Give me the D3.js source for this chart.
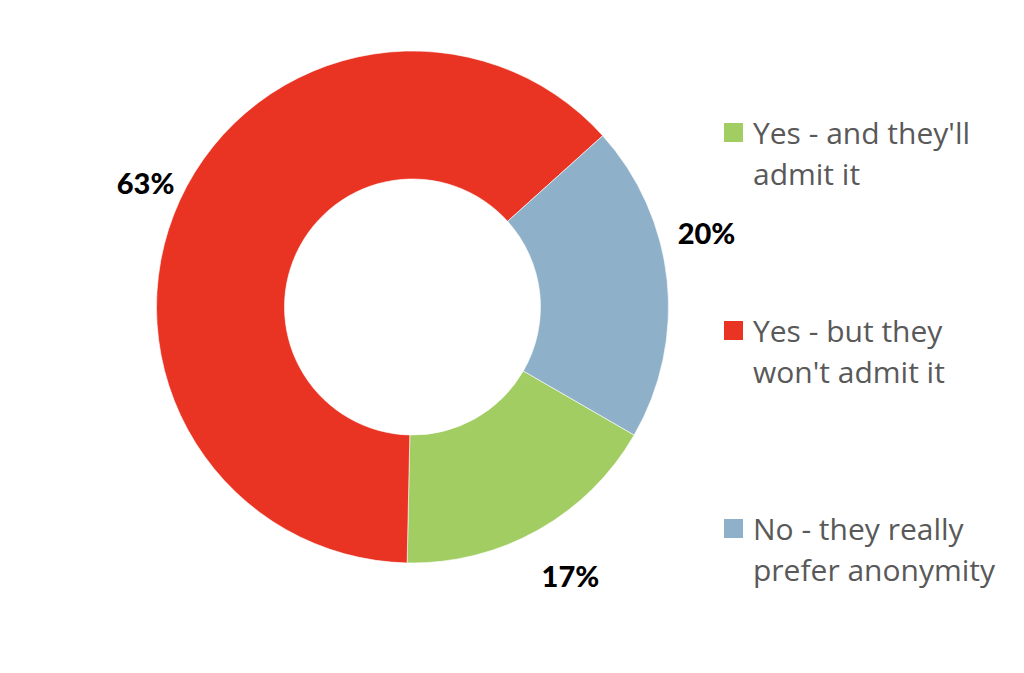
<!DOCTYPE html>
<html>
<head>
<meta charset="utf-8">
<script src="https://cdn.jsdelivr.net/npm/d3@7"></script>
<style>
  html, body { margin: 0; padding: 0; background: #fff; }
  svg { display: block; }
</style>
</head>
<body>
<svg id="chart" width="1024" height="673"></svg>
<script>
// ---- data ----
const categories = ["Yes - and they'll admit it", "Yes - but they won't admit it", "No - they really prefer anonymity"];
const values = [17, 63, 20];
const legendLines = [["Yes - and they'll", "admit it"], ["Yes - but they", "won't admit it"], ["No - they really", "prefer anonymity"]];
const colors = ["#A2CD63", "#E93323", "#8EB0C9"];

// ---- layout ----
const W = 1024, H = 673;
const cx = 412.5, cy = 307, outerR = 256, innerR = 128;
const startDeg = 120;
// label placement (angle offset in degrees, radius) per slice
const labelLayout = [{da: -1, r: 312}, {da: 0.2, r: 294}, {da: -8, r: 303}];

const svg = d3.select("#chart");
const g = svg.append("g").attr("transform", `translate(${cx},${cy})`);

const pie = d3.pie().sort(null).value(d => d)
  .startAngle(startDeg * Math.PI / 180)
  .endAngle((startDeg + 360) * Math.PI / 180);
const arcs = pie(values);
const arc = d3.arc().innerRadius(innerR).outerRadius(outerR);

g.selectAll("path.slice").data(arcs).enter().append("path")
  .attr("class", "slice")
  .attr("d", arc)
  .attr("fill", (d, i) => colors[i])
  .attr("stroke", "#fff")
  .attr("stroke-width", 0.6);

const fmt = d3.format(".0%");
const total = d3.sum(values);
g.selectAll("text.lbl").data(arcs).enter().append("text")
  .attr("class", "lbl")
  .attr("transform", (d, i) => {
    const a = (d.startAngle + d.endAngle) / 2 + labelLayout[i].da * Math.PI / 180;
    const r = labelLayout[i].r;
    return `translate(${Math.sin(a) * r},${-Math.cos(a) * r})`;
  })
  .attr("text-anchor", "middle")
  .attr("dy", "0.36em")
  .style("font-family", "Lato, 'Open Sans', sans-serif")
  .style("font-weight", "900")
  .style("font-size", "29px")
  .attr("fill", "#000")
  .text(d => fmt(d.value / total));

// legend
const legend = svg.append("g").attr("transform", "translate(724,123)");
const item = legend.selectAll("g.item").data(categories).enter().append("g")
  .attr("class", "item")
  .attr("transform", (d, i) => `translate(0,${i * 198})`);
item.append("rect")
  .attr("width", 19).attr("height", 19)
  .attr("fill", (d, i) => colors[i]);
item.append("text")
  .attr("x", 29)
  .attr("y", 21)
  .style("font-family", "'Open Sans', sans-serif")
  .style("font-size", "30px")
  .attr("fill", "#595959")
  .selectAll("tspan").data((d, i) => legendLines[i]).enter().append("tspan")
  .attr("x", 29)
  .attr("dy", (d, j) => j === 0 ? 0 : 41)
  .text(d => d);
</script>
</body>
</html>
